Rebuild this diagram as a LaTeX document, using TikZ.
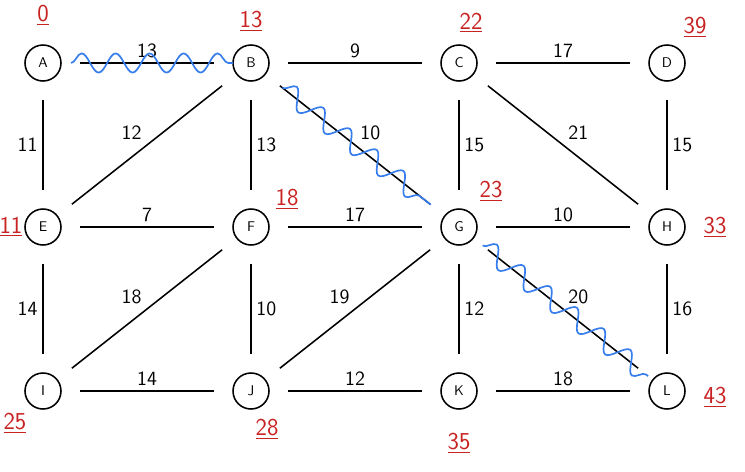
\documentclass[tikz,border=0pt]{standalone}
\usetikzlibrary{positioning, calc, decorations.pathmorphing}
\definecolor{distred}{RGB}{200,35,35}
\definecolor{treeblue}{RGB}{55,125,235}

\begin{document}
\begin{tikzpicture}[node distance=4.1cm and 5.2cm, on grid, font=\sffamily,
        vertex/.style={circle, draw, line width=1.1pt, minimum size=0.9cm, inner sep=0pt, font=\sffamily},
        dist/.style={text=distred, font=\sffamily\LARGE},
        link/.style={line width=1.1pt, shorten >=0.45cm, shorten <=0.45cm},
        wavy/.style={treeblue, line width=1.2pt, decorate, decoration={snake, amplitude=0.24cm, segment length=0.85cm}}]
        \useasboundingbox (-1.075,1.575) rectangle (17.55,-10.2);

        \node[vertex] (A) {A};
        \node[vertex] (B) [right=of A] {B};
        \node[vertex] (C) [right=of B] {C};
        \node[vertex] (D) [right=of C] {D};
        \node[vertex] (E) [below=of A] {E};
        \node[vertex] (F) [right=of E] {F};
        \node[vertex] (G) [right=of F] {G};
        \node[vertex] (H) [right=of G] {H};
        \node[vertex] (I) [below=of E] {I};
        \node[vertex] (J) [right=of I] {J};
        \node[vertex] (K) [right=of J] {K};
        \node[vertex] (L) [right=of K] {L};

        % distances
        \node[dist] (dA) [above=1.2cm of A] {\underline{0}};
        \node[dist] (dB) [above=1.05cm of B] {\underline{13}};
        \node[dist] (dC) [above right=1.0cm and 0.3cm of C] {\underline{22}};
        \node[dist] (dD) [above right=0.9cm and 0.7cm of D] {\underline{39}};
        \node[dist] (dE) [left=0.8cm of E] {\underline{11}};
        \node[dist] (dF) [above right=0.7cm and 0.9cm of F] {\underline{18}};
        \node[dist] (dG) [above right=0.9cm and 0.8cm of G] {\underline{23}};
        \node[dist] (dH) [right=1.2cm of H] {\underline{33}};
        \node[dist] (dI) [below left=0.8cm and 0.7cm of I] {\underline{25}};
        \node[dist] (dJ) [below right=0.95cm and 0.4cm of J] {\underline{28}};
        \node[dist] (dK) [below=1.3cm of K] {\underline{35}};
        \node[dist] (dL) [below right=0.15cm and 1.2cm of L] {\underline{43}};

        \path[link, every node/.style={font=\sffamily\Large}]
        (A) edge node[above] {13} (B)
        (B) edge node[above] {9} (C)
        (C) edge node[above] {17} (D)
        (A) edge node[left] {11} (E)
        (B) edge node[above left] {12} (E)
        (B) edge node[right] {13} (F)
        (B) edge node[above right] {10} (G)
        (C) edge node[right] {15} (G)
        (C) edge node[above right] {21} (H)
        (D) edge node[right] {15} (H)
        (E) edge node[above] {7} (F)
        (F) edge node[above] {17} (G)
        (G) edge node[above] {10} (H)
        (E) edge node[left] {14} (I)
        (F) edge node[above left] {18} (I)
        (F) edge node[right] {10} (J)
        (G) edge node[above left] {19} (J)
        (G) edge node[right] {12} (K)
        (G) edge node[above right] {20} (L)
        (H) edge node[right] {16} (L)
        (I) edge node[above] {14} (J)
        (J) edge node[above] {12} (K)
        (K) edge node[above] {18} (L);

        % shortest path tree
        \draw[wavy] ($(A)!0.7cm!(B)$) -- ($(B)!0.45cm!(A)$);
        \draw[wavy] ($(B)!1.0cm!(G)$) -- ($(G)!0.9cm!(B)$);
        \draw[wavy] ($(G)!0.75cm!(L)$) -- ($(L)!0.6cm!(G)$);
\end{tikzpicture}
\end{document}
